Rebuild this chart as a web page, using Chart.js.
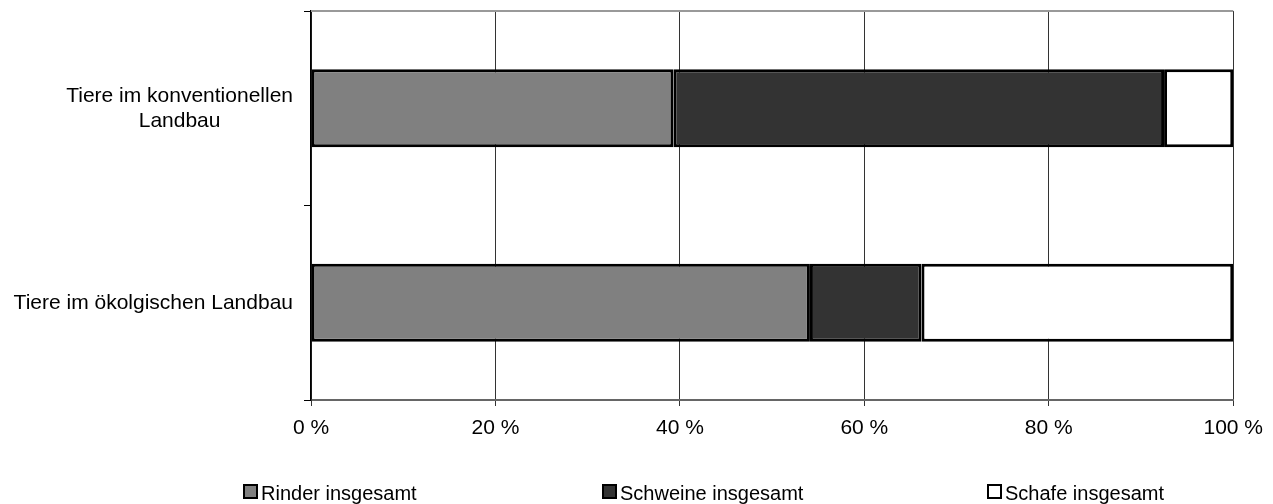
<!DOCTYPE html>
<html>
<head>
<meta charset="utf-8">
<script src="https://cdn.jsdelivr.net/npm/chart.js@4"></script>
<style>
  body { margin: 0; background: #fff; }
  #wrap { position: relative; width: 1273px; height: 504px; }
  .legend { position: absolute; top: 482px; font-family: 'Liberation Sans', Arial, sans-serif; font-size: 20px; color: #000; white-space: nowrap; line-height: 22px; }
  .legend i { display: inline-block; width: 11px; height: 11px; border: 2px solid #000; margin-right: 3px; vertical-align: 1px; }
</style>
</head>
<body>
<div id="wrap">
  <canvas id="myChart" width="1273" height="504"></canvas>
  <div id="legend"></div>
</div>
<script>
'use strict';

var categories = [
  ['Tiere im konventionellen', 'Landbau'],
  ['Tiere im ökolgischen Landbau']
];
var seriesNames = ['Rinder insgesamt', 'Schweine insgesamt', 'Schafe insgesamt'];
var rinder = [39.3, 54.1];
var schweine = [53.2, 12.1];
var schafe = [7.5, 33.8];
var xTicks = [0, 20, 40, 60, 80, 100];

var colors = ['#808080', '#333333', '#ffffff'];
var legendLeft = [243, 602, 987];

// y labels: each block centered on itself, block right-aligned to the axis
var labelPlugin = {
  id: 'catLabels',
  afterDraw: function(chart) {
    var c = chart.ctx;
    var y = chart.scales.y;
    c.save();
    c.font = '21px "Liberation Sans", Arial, sans-serif';
    c.fillStyle = '#000';
    c.textAlign = 'center';
    c.textBaseline = 'middle';
    categories.forEach(function(lines, i) {
      var w = 0;
      lines.forEach(function(l) { w = Math.max(w, c.measureText(l).width); });
      var cx = 293 - w / 2;
      var cy = y.getPixelForValue(i);
      var lh = 25;
      lines.forEach(function(l, j) {
        c.fillText(l, cx, cy + (j - (lines.length - 1) / 2) * lh);
      });
    });
    // top frame line
    var a = chart.chartArea;
    c.strokeStyle = '#999';
    c.lineWidth = 2;
    c.beginPath();
    c.moveTo(a.left, a.top);
    c.lineTo(a.right, a.top);
    c.stroke();
    c.restore();
  }
};

var ctx = document.getElementById('myChart').getContext('2d');

var chart = new Chart(ctx, {
  type: 'bar',
  data: {
    labels: categories,
    datasets: [rinder, schweine, schafe].map(function(d, i) {
      return {
        label: seriesNames[i],
        data: d,
        backgroundColor: colors[i],
        borderColor: '#000',
        borderWidth: 3,
        borderSkipped: false,
        categoryPercentage: 0.4,
        barPercentage: 1
      };
    })
  },
  options: {
    indexAxis: 'y',
    responsive: false,
    animation: false,
    layout: { padding: { top: 11, right: 39, left: 0, bottom: 0 } },
    plugins: { legend: { display: false }, tooltip: { enabled: false } },
    scales: {
      x: {
        stacked: true,
        min: 0,
        max: 100,
        afterBuildTicks: function(s) { s.ticks = xTicks.map(function(v) { return { value: v }; }); },
        ticks: {
          callback: function(v) { return v + ' %'; },
          font: { family: '"Liberation Sans", Arial, sans-serif', size: 21 },
          color: '#000',
          padding: 10,
          maxRotation: 0
        },
        grid: { color: '#333', lineWidth: 1, tickLength: 6 },
        border: { color: '#666', width: 2 },
        afterFit: function(s) { s.height = 104; }
      },
      y: {
        stacked: true,
        ticks: { display: false },
        grid: { drawOnChartArea: false, tickLength: 7, color: '#000', offset: true },
        border: { color: '#000', width: 1.5 },
        afterFit: function(s) { s.width = 311; }
      }
    }
  },
  plugins: [labelPlugin]
});

var leg = document.getElementById('legend');
seriesNames.forEach(function(n, i) {
  var d = document.createElement('div');
  d.className = 'legend';
  d.style.left = legendLeft[i] + 'px';
  d.innerHTML = '<i style="background:' + colors[i] + '"></i>' + n;
  leg.appendChild(d);
});
</script>
</body>
</html>
